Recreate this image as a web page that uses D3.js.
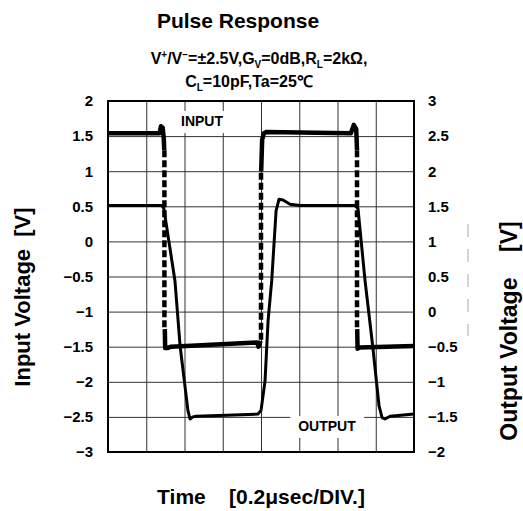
<!DOCTYPE html>
<html>
<head>
<meta charset="utf-8">
<script src="https://cdn.jsdelivr.net/npm/d3@7"></script>
<style>
body { margin: 0; background: #fff; }
text { font-family: "Liberation Sans", Arial, sans-serif; font-weight: bold; fill: #000; }
</style>
</head>
<body>
<div id="chart"></div>
<script>
// time axis in usec (0.2 usec / div)
var timeTicks = [0, 0.2, 0.4, 0.6, 0.8, 1.0, 1.2, 1.4, 1.6];
var leftTicks = [-3, -2.5, -2, -1.5, -1, -0.5, 0, 0.5, 1, 1.5, 2];
var rightTicks = [-2, -1.5, -1, -0.5, 0, 0.5, 1, 1.5, 2, 2.5, 3];

// input trace (left axis), null breaks where the edge is drawn dashed
var inputT = [0, 0.27, 0.277, 0.286, 0.292, 0.294, null,
              0.297, 0.299, 0.31, 0.33, 0.78, 0.787, 0.798, null,
              0.801, 0.806, 0.815, 0.83, 1.27, 1.285, 1.298, 1.302, null,
              1.303, 1.305, 1.315, 1.6];
var inputV = [1.54, 1.54, 1.64, 1.62, 1.45, 1.30, null,
              -1.25, -1.52, -1.52, -1.50, -1.44, -1.50, -1.42, null,
              1.0, 1.45, 1.54, 1.56, 1.54, 1.66, 1.60, 1.30, null,
              -1.25, -1.53, -1.51, -1.49];
// fast edges of the input (dashed)
var edgeT = [0.295, 0.800, 1.302];
var edgeFrom = [1.30, -1.40, 1.30];
var edgeTo = [-1.25, 1.0, -1.25];

// output trace (right axis)
var outputT = [0, 0.282, 0.292, 0.35, 0.377, 0.418, 0.429, 0.444, 0.460, 0.784, 0.800, 0.821, 0.837, 0.856,
               0.879, 0.894, 0.915, 0.952, 1.004, 1.292, 1.307, 1.344, 1.384, 1.417, 1.433, 1.448, 1.475, 1.6];
var outputV = [1.51, 1.51, 1.47, 0.44, -0.49, -1.41, -1.53, -1.50, -1.49, -1.46, -1.41, -0.99, -0.13, 0.44,
               1.44, 1.60, 1.59, 1.53, 1.51, 1.51, 1.47, 0.44, -0.49, -1.34, -1.51, -1.53, -1.49, -1.46];

var W = 523, H = 511;
var ml = 108, mt = 101, w = 306, h = 351;

var svg = d3.select("#chart").append("svg")
    .attr("width", W)
    .attr("height", H);

var x = d3.scaleLinear().domain([0, 1.6]).range([0, w]);
var yL = d3.scaleLinear().domain([-3, 2]).range([h, 0]);
var yR = d3.scaleLinear().domain([-2, 3]).range([h, 0]);
var fmt = d3.format("~g");

var g = svg.append("g").attr("transform", "translate(" + ml + "," + mt + ")");

// grid
g.append("g")
    .attr("class", "grid")
    .call(d3.axisBottom(x).tickValues(timeTicks).tickSize(h).tickFormat(""))
    .call(function(s) { s.select(".domain").remove(); });
g.append("g")
    .attr("class", "grid")
    .call(d3.axisLeft(yL).tickValues(leftTicks).tickSize(-w).tickFormat(""))
    .call(function(s) { s.select(".domain").remove(); });
g.selectAll(".grid line").attr("stroke", "#333").attr("stroke-width", 1);

// tick labels
var la = g.append("g")
    .call(d3.axisLeft(yL).tickValues(leftTicks).tickSize(0).tickPadding(15).tickFormat(fmt));
var ra = g.append("g")
    .attr("transform", "translate(" + w + ",0)")
    .call(d3.axisRight(yR).tickValues(rightTicks).tickSize(0).tickPadding(14).tickFormat(fmt));
la.select(".domain").remove();
ra.select(".domain").remove();
svg.selectAll(".tick text").style("font-size", "15px").style("font-family", "Liberation Sans, Arial, sans-serif").style("font-weight", "bold");

// labels with white boxes
function boxLabel(txt, cx, by) {
  var t = g.append("text")
      .attr("x", cx).attr("y", by)
      .attr("text-anchor", "middle")
      .style("font-size", "14px")
      .text(txt);
  var b = t.node().getBBox();
  g.insert("rect", function() { return t.node(); })
      .attr("x", b.x - 8).attr("y", b.y - 2)
      .attr("width", b.width + 16).attr("height", b.height + 6)
      .attr("fill", "#fff");
}

var line = d3.line()
    .defined(function(d) { return d[0] !== null; })
    .x(function(d) { return x(d[0]); });

var inPts = inputT.map(function(t, i) { return [t, inputV[i]]; });
var outPts = outputT.map(function(t, i) { return [t, outputV[i]]; });

boxLabel("INPUT", 202 - ml, 126 - mt);
boxLabel("OUTPUT", 327 - ml, 431 - mt);

g.append("path")
    .datum(outPts)
    .attr("fill", "none")
    .attr("stroke", "#000")
    .attr("stroke-width", 3)
    .attr("stroke-linejoin", "round")
    .attr("d", line.y(function(d) { return yR(d[1]); }));

g.append("path")
    .datum(inPts)
    .attr("fill", "none")
    .attr("stroke", "#000")
    .attr("stroke-width", 4.5)
    .attr("stroke-linejoin", "round")
    .attr("d", line.y(function(d) { return yL(d[1]); }));

g.selectAll(".edge")
    .data(edgeT)
    .enter()
    .append("line")
    .attr("class", "edge")
    .attr("x1", function(d) { return x(d); })
    .attr("x2", function(d) { return x(d); })
    .attr("y1", function(d, i) { return yL(edgeFrom[i]); })
    .attr("y2", function(d, i) { return yL(edgeTo[i]); })
    .attr("stroke", "#000")
    .attr("stroke-width", 4.5)
    .attr("stroke-dasharray", "7,3");

// frame
g.append("rect")
    .attr("width", w).attr("height", h)
    .attr("fill", "none")
    .attr("stroke", "#000")
    .attr("stroke-width", 2);

// faint scan mark right of the axis
svg.append("line")
    .attr("x1", 468).attr("x2", 468)
    .attr("y1", 224).attr("y2", 336)
    .attr("stroke", "#aaa")
    .attr("stroke-width", 1)
    .attr("stroke-dasharray", "13,12");

// titles
svg.append("text")
    .attr("x", 238).attr("y", 28)
    .attr("text-anchor", "middle")
    .style("font-size", "21px")
    .text("Pulse Response");

var sub1 = svg.append("text")
    .attr("x", 259).attr("y", 64)
    .attr("text-anchor", "middle")
    .style("font-size", "16px");
sub1.append("tspan").text("V");
sub1.append("tspan").attr("dy", -6).style("font-size", "10px").text("+");
sub1.append("tspan").attr("dy", 6).text("/V");
sub1.append("tspan").attr("dy", -6).style("font-size", "10px").text("−");
sub1.append("tspan").attr("dy", 6).text("=±2.5V,G");
sub1.append("tspan").attr("dy", 4).style("font-size", "10px").text("V");
sub1.append("tspan").attr("dy", -4).text("=0dB,R");
sub1.append("tspan").attr("dy", 4).style("font-size", "10px").text("L");
sub1.append("tspan").attr("dy", -4).text("=2kΩ,");

var sub2 = svg.append("text")
    .attr("x", 249).attr("y", 87)
    .attr("text-anchor", "middle")
    .style("font-size", "16px");
sub2.append("tspan").text("C");
sub2.append("tspan").attr("dy", 4).style("font-size", "10px").text("L");
sub2.append("tspan").attr("dy", -4).text("=10pF,Ta=25℃");

svg.append("text")
    .attr("transform", "translate(22,297) rotate(-90)")
    .attr("text-anchor", "middle")
    .attr("dominant-baseline", "central")
    .style("font-size", "22px")
    .style("white-space", "pre")
    .text("Input Voltage  [V]");

svg.append("text")
    .attr("transform", "translate(509,331) rotate(-90)")
    .attr("text-anchor", "middle")
    .attr("dominant-baseline", "central")
    .style("font-size", "23px")
    .style("white-space", "pre")
    .text("Output Voltage    [V]");

svg.append("text")
    .attr("x", 261).attr("y", 504)
    .attr("text-anchor", "middle")
    .style("font-size", "21px")
    .style("white-space", "pre")
    .text("Time    [0.2μsec/DIV.]");
</script>
</body>
</html>
